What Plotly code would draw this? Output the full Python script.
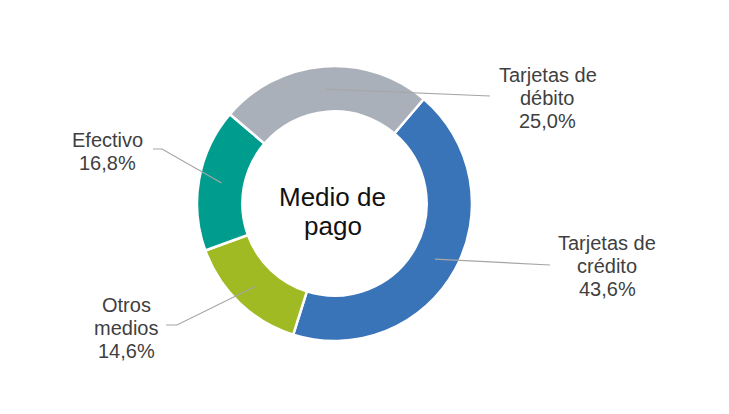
import math
import plotly.graph_objects as go

# ---- data ----
categories = ["Tarjetas de crédito", "Otros medios", "Efectivo", "Tarjetas de débito"]
label_lines = [["Tarjetas de", "crédito"], ["Otros", "medios"], ["Efectivo"], ["Tarjetas de", "débito"]]
values = [43.6, 14.6, 16.8, 25.0]
center_title = ["Medio de", "pago"]

# ---- style / layout ----
colors = ["#3A74B8", "#9FBA22", "#009D8F", "#AAB0B9"]
W, H = 729, 414
OFF = 8  # page body margin of the browser
cx, cy, R = 334.5, 203.5, 137.5
hole = 0.67
rotation = 40.5
r_mid = R * (1 + hole) / 2
FONT = "Liberation Sans, Arial"
label_size, label_gap = 20, 23
title_size, title_gap = 26, 29

# label block centres and leader-line elbow/end points (page pixels)
label_pos = [(607, 266), (126, 328), (107.5, 151.5), (547.5, 98)]
line_ends = [[(550, 265)], [(177, 325), (166, 325)], [(162, 149), (153, 149)], [(490, 96)]]


def px2paper(x, y):
    return (x - OFF) / W, 1 - (y - OFF) / H


x0, y1 = px2paper(cx - R, cy - R)
x1, y0 = px2paper(cx + R, cy + R)

fig = go.Figure(go.Pie(
    labels=categories, values=values, sort=False, direction="clockwise",
    rotation=rotation, hole=hole, textinfo="none", hoverinfo="label+percent",
    marker=dict(colors=colors, line=dict(color="white", width=2.5)),
    domain=dict(x=[x0, x1], y=[y0, y1]),
    showlegend=False,
))

annotations = []


def add_block(lines, x, yc, size, gap, color):
    n = len(lines)
    for k, t in enumerate(lines):
        lx, ly = px2paper(x, yc + (k - (n - 1) / 2) * gap)
        annotations.append(dict(x=lx, y=ly, xref="paper", yref="paper", showarrow=False,
                                text=t, align="center", xanchor="center", yanchor="middle",
                                font=dict(family=FONT, size=size, color=color)))


total = sum(values)
start = rotation
shapes = []
for i, v in enumerate(values):
    span = v / total * 360
    mid = math.radians(start + span / 2)
    start += span
    ax, ay = cx + r_mid * math.sin(mid), cy - r_mid * math.cos(mid)
    pts = [(ax, ay)] + line_ends[i]
    path = "M " + " L ".join(f"{px2paper(x, y)[0]:.5f},{px2paper(x, y)[1]:.5f}" for x, y in pts)
    shapes.append(dict(type="path", xref="paper", yref="paper", path=path,
                       line=dict(color="#A6A6A6", width=1.2)))
    pct = f"{v:.1f}".replace(".", ",") + "%"
    add_block(label_lines[i] + [pct], label_pos[i][0], label_pos[i][1],
              label_size, label_gap, "#3F3F3F")

add_block(center_title, 332.5, 211.5, title_size, title_gap, "#111111")

fig.update_layout(width=W, height=H, margin=dict(l=0, r=0, t=0, b=0),
                  paper_bgcolor="white", plot_bgcolor="white",
                  shapes=shapes, annotations=annotations)
fig.write_html("out.html")
